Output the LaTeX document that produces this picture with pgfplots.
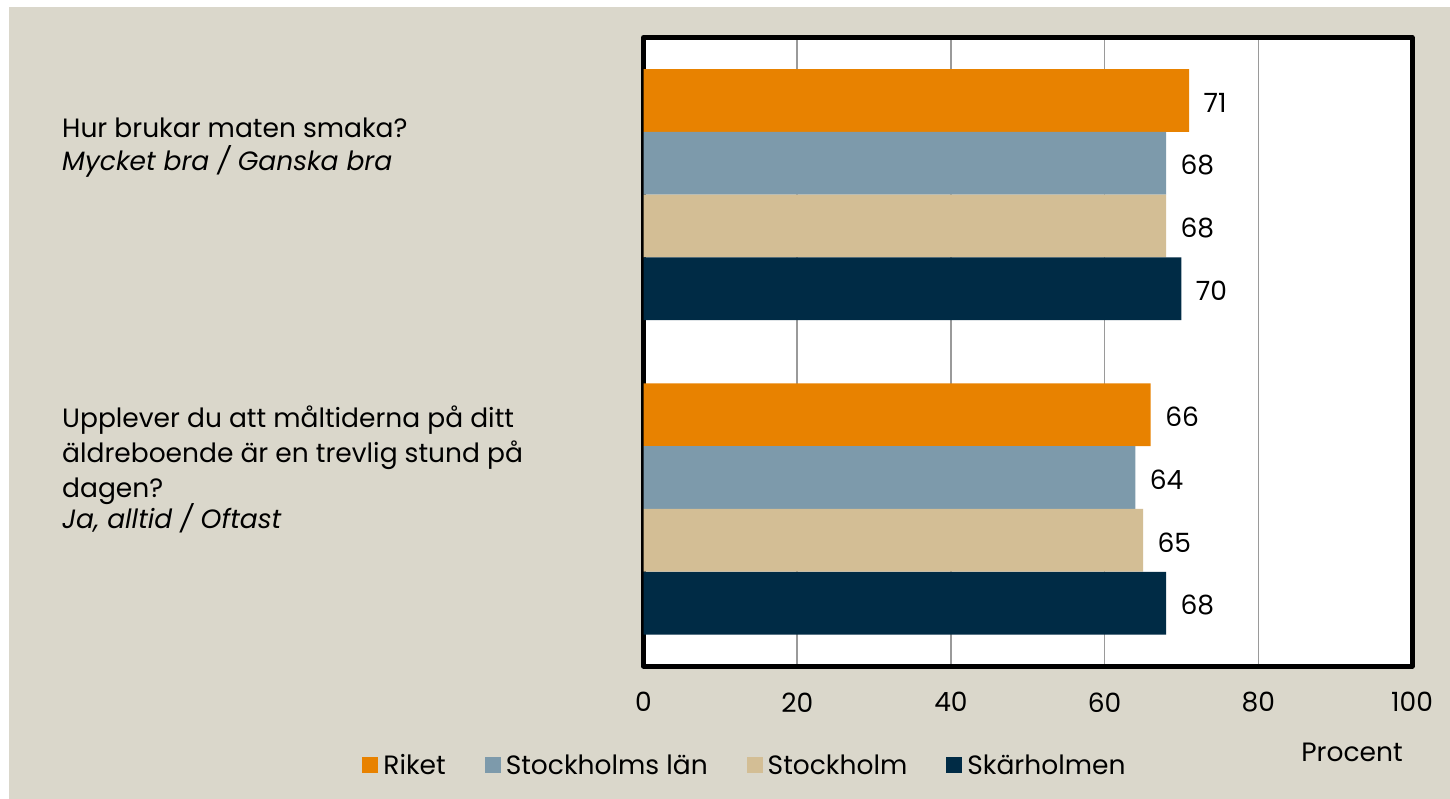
\documentclass[border=0pt]{standalone}
\usepackage{pgfplots}
\pgfplotsset{compat=1.18}
\usepackage{fontspec}
\setmainfont{Poppins}
\definecolor{bgc}{HTML}{DAD7CB}
\definecolor{cRiket}{HTML}{E88200}
\definecolor{cLan}{HTML}{7D9AAB}
\definecolor{cSthlm}{HTML}{D3BE95}
\definecolor{cSkar}{HTML}{002B45}
\definecolor{gridc}{HTML}{9A9A9A}
\newcommand{\fs}{\fontsize{26.5}{31}\selectfont}
\begin{document}
\begin{tikzpicture}[x=1pt,y=1pt]
\useasboundingbox (0,0) rectangle (1450,799);
\fill[white] (0,0) rectangle (1450,799);
\fill[bgc] (9,0) rectangle (1450,792);
\node[anchor=base west,inner sep=0pt] at (62,661.7) {\fs Hur brukar maten smaka?};
\node[anchor=base west,inner sep=0pt] at (62,628.3) {\fs\itshape Mycket bra / Ganska bra};
\node[anchor=base west,inner sep=0pt] at (62,371) {\fs Upplever du att måltiderna på ditt};
\node[anchor=base west,inner sep=0pt] at (62,336) {\fs äldreboende är en trevlig stund på};
\node[anchor=base west,inner sep=0pt] at (62,301) {\fs dagen?};
\node[anchor=base west,inner sep=0pt] at (62,270) {\fs\itshape Ja, alltid / Oftast};
\node[anchor=base,inner sep=0pt] at (1352,37) {\fs Procent};
\begin{axis}[
  at={(643.5pt,133pt)}, anchor=south west,
  scale only axis, width=768.5pt, height=628.5pt,
  xmin=0, xmax=100, ymin=37.5, ymax=666, y dir=reverse,
  axis background/.style={fill=white},
  axis line style={line width=5pt, black, line join=round},
  xtick={0,20,40,60,80,100}, ytick=\empty,
  major tick length=0pt,
  xmajorgrids, grid style={gridc, line width=1.6pt},
  /pgf/number format/assume math mode=true,
  xticklabel style={font=\fs, yshift=-23pt},
  xbar, bar width=62.7,
  nodes near coords,
  every node near coord/.append style={font=\fs, anchor=west, xshift=11pt, yshift=-2pt, black},
  legend columns=4,
  legend style={draw=none, fill=none, at={(-0.366,-0.1575)}, anchor=west,
    font=\fs, inner sep=0pt,
    /tikz/every even column/.append style={column sep=37pt},
    /tikz/every odd column/.append style={column sep=3pt}},
  legend image code/.code={\fill[#1] (0pt,-8pt) rectangle (16pt,8pt);},
]
\addplot[bar shift=0pt, fill=cRiket, draw=none] coordinates {(71,100.6) (66,414.7)};
\addplot[bar shift=0pt, fill=cLan, draw=none] coordinates {(68,163.3) (64,477.5)};
\addplot[bar shift=0pt, fill=cSthlm, draw=none] coordinates {(68,226) (65,540.3)};
\addplot[bar shift=0pt, fill=cSkar, draw=none] coordinates {(70,288.7) (68,603.3)};
\legend{Riket, Stockholms län, Stockholm, Skärholmen}
\end{axis}
\end{tikzpicture}
\end{document}
